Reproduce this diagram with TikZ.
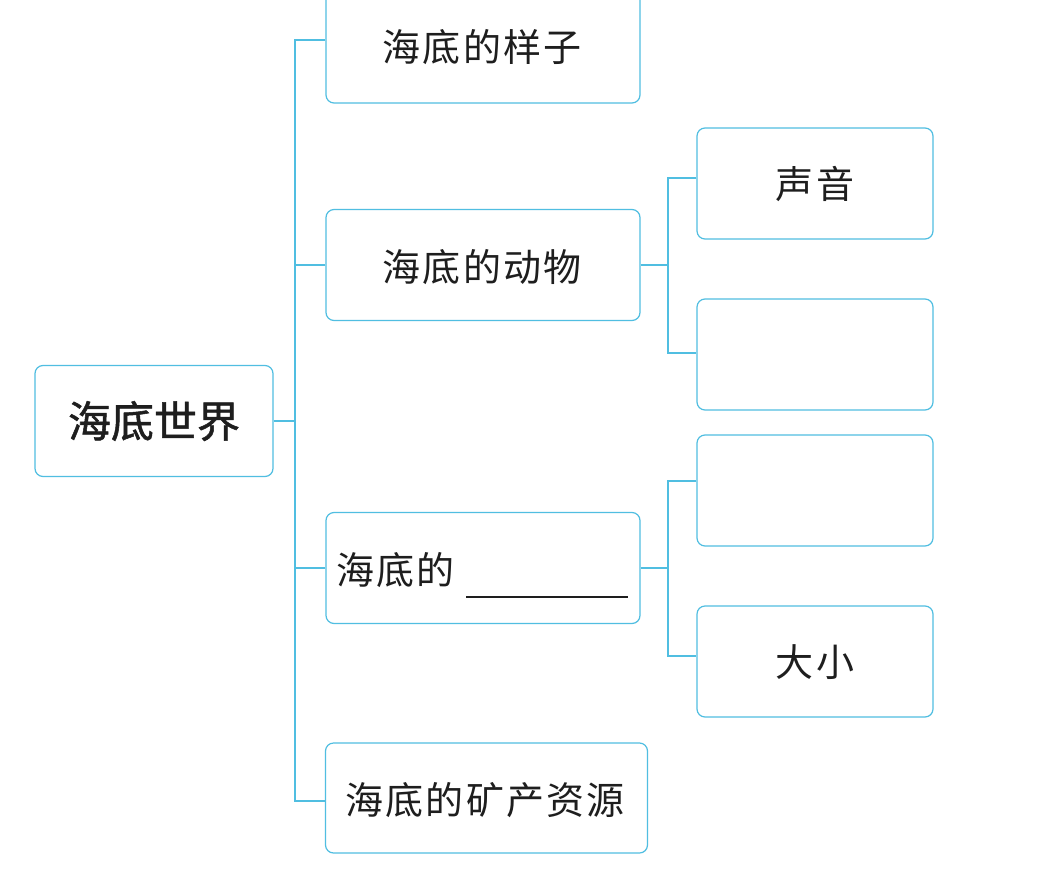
\documentclass[tikz,border=0pt]{standalone}
\usepackage{fontspec}
\newfontfamily\cjk[LetterSpace=6]{Noto Sans CJK SC}
\newfontfamily\cjkroot[FakeBold=1.2]{Noto Sans CJK SC}
\definecolor{linec}{RGB}{80,190,225}
\definecolor{txt}{RGB}{30,30,30}
\begin{document}
\begin{tikzpicture}[x=1pt,y=-1pt,
  box/.style={draw=linec, line width=1.2pt, rounded corners=8pt, fill=white, inner sep=0pt},
  conn/.style={draw=linec, line width=1.3pt},
  lbl/.style={font=\cjk\fontsize{38}{42}\selectfont, text=txt, inner sep=0pt}]
\useasboundingbox (0,0) rectangle (1049,870);
\fill[white] (0,0) rectangle (1049,870);
% root
\node[box, minimum width=238pt, minimum height=111pt, font=\cjkroot\fontsize{43}{48}\selectfont, text=txt] (root) at (154,421) {海底世界};
% first level
\node[box, minimum width=314pt, minimum height=113pt] (b1) at (483,46.5) {};
\node[lbl] (t1) at (482,47) {海底的样子};
\node[box, minimum width=314pt, minimum height=111pt] (b2) at (483,265) {};
\node[lbl] (t2) at (482,267) {海底的动物};
\node[box, minimum width=314pt, minimum height=111pt] (b3) at (483,568) {};
\node[lbl, anchor=west] (t3) at (336,570) {海底的};
\draw[txt, line width=1.3pt] (466,597) -- (628,597);
\node[box, minimum width=322pt, minimum height=110pt] (b4) at (486.5,798) {};
\node[lbl] (t4) at (485,800) {海底的矿产资源};
% second level
\node[box, minimum width=236pt, minimum height=111pt] (r1) at (815,183.5) {};
\node[lbl] (tr1) at (815,184) {声音};
\node[box, minimum width=236pt, minimum height=111pt] (r2) at (815,354.5) {};
\node[box, minimum width=236pt, minimum height=111pt] (r3) at (815,490.5) {};
\node[box, minimum width=236pt, minimum height=111pt] (r4) at (815,661.5) {};
\node[lbl] (tr4) at (815,662) {大小};
% junctions
\coordinate (tk) at (295,421);
\coordinate (s1) at (668,265);
\coordinate (s2) at (668,568);
\coordinate (c1) at ([yshift=6.5pt]b1.west);
\coordinate (c4) at ([yshift=-3pt]b4.west);
\coordinate (cr1) at ([yshift=5.5pt]r1.west);
\coordinate (cr2) at ([yshift=1.5pt]r2.west);
\coordinate (cr3) at ([yshift=9.5pt]r3.west);
\coordinate (cr4) at ([yshift=5.5pt]r4.west);
% connectors
\draw[conn] (c1) -- (c1 -| tk) -- (c4 -| tk) -- (c4);
\draw[conn] (root.east) -- (tk);
\draw[conn] (b2.west) -- (b2.west -| tk);
\draw[conn] (b3.west) -- (b3.west -| tk);
\draw[conn] (b2.east) -- (s1);
\draw[conn] (cr1) -- (cr1 -| s1) -- (cr2 -| s1) -- (cr2);
\draw[conn] (b3.east) -- (s2);
\draw[conn] (cr3) -- (cr3 -| s2) -- (cr4 -| s2) -- (cr4);
\end{tikzpicture}
\end{document}
